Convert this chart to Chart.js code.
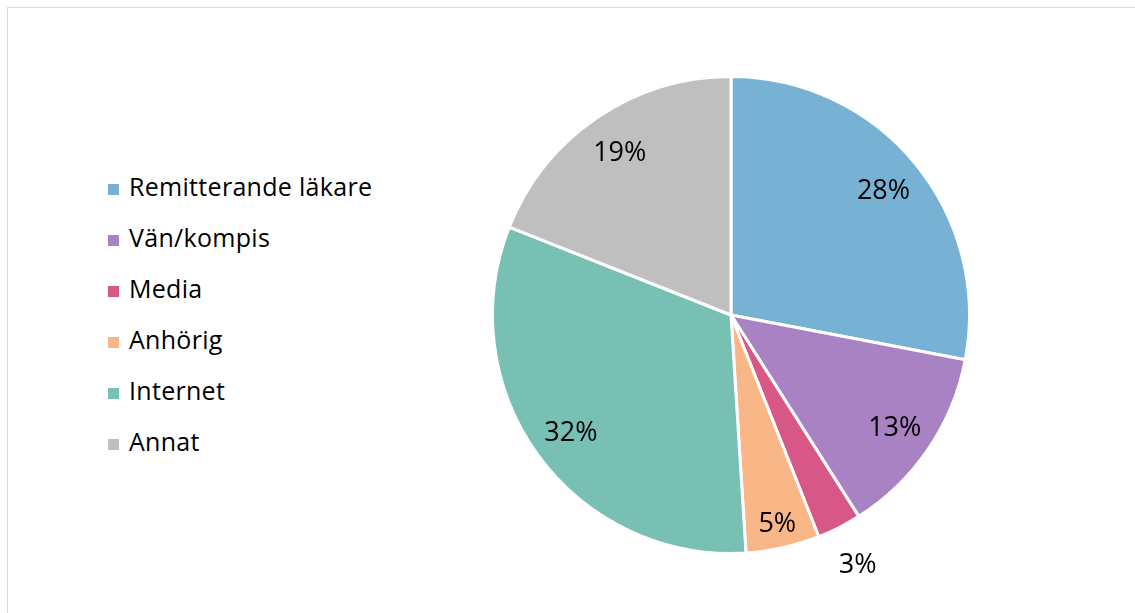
<!DOCTYPE html>
<html lang="sv">
<head>
    <meta charset="UTF-8">
    <title>Remittenter</title>
    <script src="https://cdn.jsdelivr.net/npm/chart.js"></script>
    <style>
        html, body {
            margin: 0;
            padding: 0;
            width: 1135px;
            height: 613px;
            overflow: hidden;
            background: #fff;
            font-family: "Open Sans", Lato, sans-serif;
        }
        .frame {
            position: absolute;
            left: 7px;
            top: 7px;
            width: 1140px;
            height: 620px;
            border: 1px solid #d9d9d9;
        }
        .chart-box {
            position: absolute;
            left: 431px;
            top: 15px;
            width: 600px;
            height: 600px;
        }
        #legend {
            position: absolute;
            left: 108px;
            top: 161px;
            margin: 0;
            padding: 0;
            list-style: none;
        }
        #legend li {
            height: 51px;
            line-height: 51px;
            font-size: 25px;
            letter-spacing: 0.3px;
            color: #000;
            white-space: nowrap;
        }
        #legend span {
            display: inline-block;
            width: 11px;
            height: 11px;
            margin-right: 10px;
            vertical-align: 1px;
        }
    </style>
</head>
<body>
    <div class="frame"></div>
    <ul id="legend"></ul>
    <div class="chart-box">
        <canvas id="pie" width="600" height="600"></canvas>
    </div>

    <script>
        const labels = ['Remitterande läkare', 'Vän/kompis', 'Media', 'Anhörig', 'Internet', 'Annat'];
        const values = [28, 13, 3, 5, 32, 19];
        const colors = ['#77b2d5', '#a982c4', '#d75886', '#f9b686', '#77c0b3', '#bfbfbf'];

        // html legend, one row per category
        const legend = document.getElementById('legend');
        labels.forEach((name, i) => {
            const li = document.createElement('li');
            const box = document.createElement('span');
            box.style.background = colors[i];
            li.appendChild(box);
            li.appendChild(document.createTextNode(name));
            legend.appendChild(li);
        });

        // percent labels; tiny slices get their label outside the pie,
        // narrow ones a bit nearer the rim
        const pctLabels = {
            id: 'pctLabels',
            afterDatasetsDraw(chart) {
                const ctx = chart.ctx;
                const meta = chart.getDatasetMeta(0);
                ctx.save();
                ctx.font = '27px "Open Sans", Lato, sans-serif';
                ctx.fillStyle = '#000';
                ctx.textAlign = 'center';
                ctx.textBaseline = 'middle';
                meta.data.forEach((arc, i) => {
                    const mid = (arc.startAngle + arc.endAngle) / 2;
                    let f = 0.83;
                    if (values[i] < 4) f = 1.17;
                    else if (values[i] < 8) f = 0.89;
                    const r = arc.outerRadius * f;
                    ctx.fillText(values[i] + '%', arc.x + Math.cos(mid) * r, arc.y + Math.sin(mid) * r + 2);
                });
                ctx.restore();
            }
        };

        new Chart(document.getElementById('pie'), {
            type: 'pie',
            data: {
                labels: labels,
                datasets: [{
                    data: values,
                    backgroundColor: colors,
                    borderColor: '#ffffff',
                    borderWidth: 3
                }]
            },
            options: {
                responsive: false,
                animation: false,
                layout: { padding: 60 },
                plugins: {
                    legend: { display: false },
                    tooltip: { enabled: false }
                }
            },
            plugins: [pctLabels]
        });
    </script>
</body>
</html>
